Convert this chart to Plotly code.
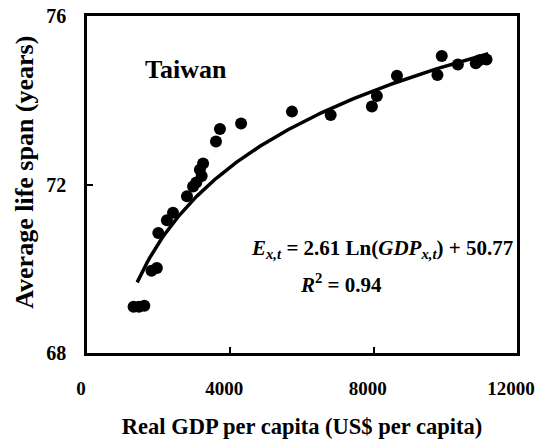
import numpy as np
import plotly.graph_objects as go

gdp = [1300, 1450, 1600, 1800, 1950, 1990, 2230, 2400, 2790, 2960, 3050,
       3150, 3240, 3200, 3600, 3710, 4300, 5720, 6800, 7950, 8090, 8650,
       9780, 9900, 10350, 10850, 10950, 11150]
life = [69.10, 69.10, 69.12, 69.95, 70.02, 70.85, 71.15, 71.33, 71.72, 71.95, 72.05,
        72.35, 72.50, 72.20, 73.02, 73.32, 73.45, 73.73, 73.65, 73.85, 74.10, 74.58,
        74.60, 75.05, 74.85, 74.88, 74.95, 74.97]

# Fitted logarithmic trend shown on the chart: E = A*Ln(GDP) + B
coef_a = 2.61
coef_b = 50.77
fit_x_start = 1400
fit_x_end = 11200

x_ticks = [0, 4000, 8000, 12000]
y_ticks = [68, 72, 76]

FONT = "Liberation Serif"

fit_x = np.linspace(fit_x_start, fit_x_end, 200)
fit_y = coef_a * np.log(fit_x) + coef_b

fig = go.Figure()
fig.add_trace(go.Scatter(x=fit_x, y=fit_y, mode="lines",
                         line=dict(color="black", width=3.5),
                         hoverinfo="skip", showlegend=False))
fig.add_trace(go.Scatter(x=gdp, y=life, mode="markers",
                         marker=dict(color="black", size=12),
                         showlegend=False))

fig.update_layout(
    width=547, height=447,
    margin=dict(l=87, r=30, t=16, b=94),
    paper_bgcolor="white", plot_bgcolor="white",
    font=dict(family=FONT, color="black"),
    xaxis=dict(range=[0, 12000], tickvals=x_ticks, ticktext=[str(v) for v in x_ticks],
               automargin=False,
               showline=True, linecolor="black", linewidth=2.5, mirror=True,
               showgrid=False, zeroline=False, ticks="inside", ticklen=6,
               tickcolor="black", tickwidth=1.5,
               tickfont=dict(family=FONT, size=19, weight="bold"),
               ticklabelstandoff=16, ticklabelshift=-6,
               title=dict(text="<b>Real GDP per capita (US$ per capita)</b>",
                          font=dict(family=FONT, size=22.5), standoff=21)),
    yaxis=dict(range=[68, 76], tickvals=y_ticks, ticktext=[str(v) for v in y_ticks],
               automargin=False,
               showline=True, linecolor="black", linewidth=2.5, mirror=True,
               showgrid=False, zeroline=False, ticks="inside", ticklen=6,
               tickcolor="black", tickwidth=1.5,
               tickfont=dict(family=FONT, size=20, weight="bold"),
               ticklabelstandoff=14),
)

fig.add_annotation(x=-0.144, y=0.535, xref="paper", yref="paper",
                   text="<b>Average life span (years)</b>", textangle=-90,
                   showarrow=False, xanchor="center", yanchor="middle",
                   font=dict(family=FONT, size=26))
fig.add_annotation(x=0.13, y=0.84, xref="paper", yref="paper",
                   text="<b>Taiwan</b>", showarrow=False, xanchor="left", yanchor="middle",
                   font=dict(family=FONT, size=26))
fig.add_annotation(x=0.995, y=0.31, xref="paper", yref="paper",
                   text=f"<b><i>E</i><sub><i>x,t</i></sub> = {coef_a:.2f} Ln(<i>GDP</i><sub><i>x,t</i></sub>) + {coef_b:.2f}</b>",
                   showarrow=False, xanchor="right", yanchor="middle",
                   font=dict(family=FONT, size=21))
fig.add_annotation(x=0.49, y=0.205, xref="paper", yref="paper",
                   text="<b><i>R</i><sup>2</sup> = 0.94</b>",
                   showarrow=False, xanchor="left", yanchor="middle",
                   font=dict(family=FONT, size=21))

# Remove the default page margin so the figure sits at the window's corner.
fig.write_html("out.html", config={"displayModeBar": False},
               post_script="document.body.style.margin='0';")
